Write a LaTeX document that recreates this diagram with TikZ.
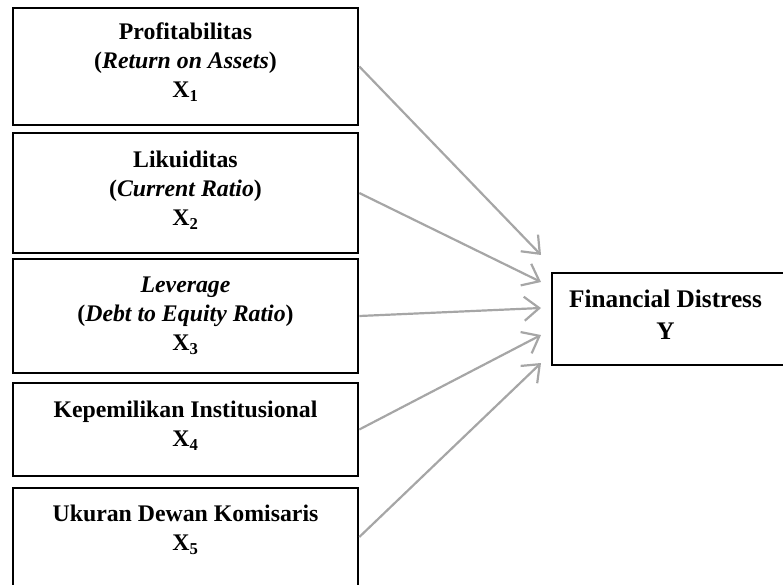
\documentclass[tikz,border=0pt]{standalone}
\usepackage{fontspec}
\setmainfont{Liberation Serif}
\usetikzlibrary{arrows.meta}
\definecolor{arrowgray}{HTML}{A6A6A6}
\begin{document}
\begin{tikzpicture}[x=1pt,y=-1pt,
  box/.style={draw=black, line width=2.6pt, inner sep=0pt, minimum width=345pt},
  boxtext/.style={font=\fontsize{23.8}{29}\selectfont\bfseries, align=center, anchor=north, inner sep=0pt},
  bigtext/.style={boxtext, font=\fontsize{25.3}{32}\selectfont\bfseries},
  link/.style={draw=arrowgray, line width=2.2pt,
    -{Straight Barb[length=15pt,width=24pt,line width=2.2pt]}}]
\clip (0,0) rectangle (783,585);

% variable boxes
\node[box, minimum height=117pt] (b1) at (185.5,66.5) {};
\node[box, minimum height=120pt] (b2) at (185.5,193) {};
\node[box, minimum height=114pt] (b3) at (185.5,316) {};
\node[box, minimum height=93pt]  (b4) at (185.5,429.5) {};
\node[box, minimum height=98pt]  (b5) at (185.5,537) {};
\node[box, minimum width=232pt, minimum height=92pt] (yb) at (668,319) {};

% box texts
\node[boxtext] (t1) at (185.5,23) {Profitabilitas\\(\textit{Return on Assets})\\X\textsubscript{1}};
\node[boxtext] (t2) at (185.5,151) {Likuiditas\\(\textit{Current Ratio})\\X\textsubscript{2}};
\node[boxtext] (t3) at (185.5,277) {\textit{Leverage}\\(\textit{Debt to Equity Ratio})\\X\textsubscript{3}};
\node[boxtext] (t4) at (185.5,401) {Kepemilikan Institusional\\X\textsubscript{4}};
\node[boxtext] (t5) at (185.5,505) {Ukuran Dewan Komisaris\\X\textsubscript{5}};
\node[bigtext] (ty) at (665.5,290) {Financial Distress\\Y};

% arrow tips in front of the dependent variable
\coordinate (p1) at (541,255);
\coordinate (p2) at (541,282);
\coordinate (p3) at (541,308);
\coordinate (p4) at (541,335);
\coordinate (p5) at (541,363);

\draw[link] (b1.east) -- (p1);
\draw[link] (b2.east) -- (p2);
\draw[link] (b3.east) -- (p3);
\draw[link] (b4.east) -- (p4);
\draw[link] (b5.east) -- (p5);
\end{tikzpicture}
\end{document}
